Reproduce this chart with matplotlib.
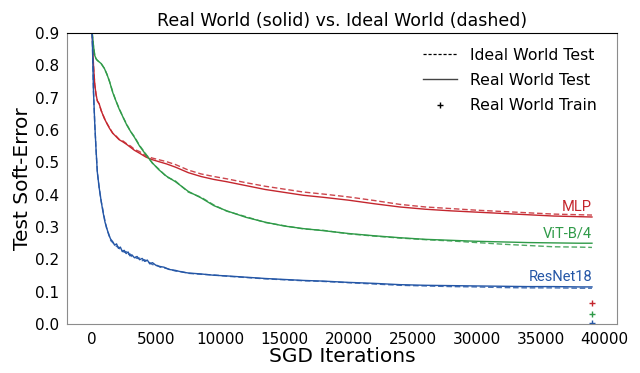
import matplotlib
matplotlib.use("Agg")
import matplotlib.pyplot as plt
from matplotlib.lines import Line2D

iters = [0, 100, 200, 300, 400, 550, 700, 950, 1150, 1350, 1600, 1850, 2100, 2400,
         2700, 3000, 3300, 3700, 4200, 4700, 5200, 5800, 6500, 7500, 8500, 9500,
         10500, 12000, 13500, 15000, 16500, 18000, 20000, 22000, 24000, 26000,
         28000, 30000, 32000, 34000, 36000, 38000, 39000]

# MLP
mlp_real = [0.90, 0.80, 0.74, 0.71, 0.69, 0.68, 0.66, 0.635, 0.62, 0.605, 0.59, 0.58, 0.57, 0.563,
            0.555, 0.546, 0.537, 0.528, 0.516, 0.508, 0.502, 0.495, 0.485, 0.468, 0.456, 0.447,
            0.440, 0.428, 0.416, 0.407, 0.398, 0.392, 0.383, 0.372, 0.362, 0.355,
            0.350, 0.346, 0.342, 0.338, 0.334, 0.332, 0.331]
mlp_ideal = [0.90, 0.80, 0.74, 0.71, 0.69, 0.68, 0.66, 0.637, 0.62, 0.607, 0.59, 0.582, 0.571, 0.566,
             0.557, 0.55, 0.54, 0.533, 0.520, 0.513, 0.508, 0.502, 0.493, 0.476, 0.464, 0.456,
             0.449, 0.437, 0.426, 0.417, 0.408, 0.402, 0.393, 0.382, 0.370, 0.362,
             0.357, 0.352, 0.348, 0.344, 0.340, 0.338, 0.337]

# ViT-B/4
vit_real = [0.90, 0.86, 0.83, 0.82, 0.815, 0.81, 0.805, 0.79, 0.772, 0.75, 0.716, 0.69, 0.665, 0.64,
            0.615, 0.595, 0.577, 0.55, 0.523, 0.498, 0.477, 0.457, 0.44, 0.41, 0.39, 0.366,
            0.35, 0.33, 0.315, 0.303, 0.295, 0.289, 0.28, 0.273, 0.267, 0.262,
            0.259, 0.256, 0.254, 0.252, 0.251, 0.250, 0.250]
vit_ideal = [0.90, 0.86, 0.83, 0.82, 0.815, 0.81, 0.805, 0.79, 0.772, 0.75, 0.718, 0.69, 0.667, 0.64,
             0.617, 0.595, 0.579, 0.552, 0.525, 0.497, 0.479, 0.455, 0.442, 0.408, 0.392, 0.368,
             0.349, 0.332, 0.314, 0.304, 0.294, 0.290, 0.279, 0.272, 0.266, 0.261,
             0.257, 0.252, 0.247, 0.243, 0.239, 0.238, 0.237]

# ResNet18 (noisier early part, read more densely)
resnet_iters = [0, 100, 200, 300, 400, 550, 700, 850, 1000, 1150, 1300, 1450, 1600, 1750, 1900,
                2050, 2200, 2350, 2500, 2650, 2800, 2950, 3100, 3300, 3500, 3700, 3900, 4100,
                4300, 4500, 4700, 5000, 5300, 5600, 6000, 6500, 7000, 7500, 8500, 9500,
                10500, 12000, 13500, 15000, 16500, 18000, 20000, 22000, 24000, 26000,
                28000, 30000, 32000, 34000, 36000, 38000, 39000]
resnet_real = [0.90, 0.72, 0.62, 0.54, 0.47, 0.42, 0.38, 0.345, 0.315, 0.295, 0.275, 0.262, 0.255, 0.244, 0.248,
               0.234, 0.238, 0.224, 0.228, 0.218, 0.223, 0.211, 0.214, 0.205, 0.209, 0.199, 0.203, 0.194,
               0.198, 0.186, 0.19, 0.181, 0.178, 0.176, 0.169, 0.166, 0.161, 0.158, 0.155, 0.151,
               0.149, 0.145, 0.141, 0.138, 0.135, 0.133, 0.129, 0.126, 0.122, 0.120,
               0.119, 0.118, 0.117, 0.116, 0.116, 0.115, 0.115]
resnet_ideal = [0.90, 0.72, 0.62, 0.54, 0.47, 0.42, 0.38, 0.35, 0.318, 0.292, 0.278, 0.258, 0.252, 0.247, 0.24,
                0.238, 0.23, 0.229, 0.222, 0.224, 0.215, 0.217, 0.209, 0.208, 0.203, 0.204, 0.196, 0.199,
                0.191, 0.19, 0.184, 0.183, 0.176, 0.174, 0.17, 0.164, 0.162, 0.157, 0.154, 0.152,
                0.148, 0.144, 0.140, 0.137, 0.134, 0.132, 0.128, 0.124, 0.120, 0.118,
                0.116, 0.115, 0.113, 0.112, 0.112, 0.111, 0.111]

# final train errors (plotted as + at the last iteration)
train_iter = 39000
train_err = {"MLP": 0.064, "ViT-B/4": 0.031, "ResNet18": 0.002}

models = ["MLP", "ViT-B/4", "ResNet18"]
colors = {"MLP": "#c4262e", "ViT-B/4": "#2f9a48", "ResNet18": "#2456a6"}
xs = {"MLP": iters, "ViT-B/4": iters, "ResNet18": resnet_iters}
real = {"MLP": mlp_real, "ViT-B/4": vit_real, "ResNet18": resnet_real}
ideal = {"MLP": mlp_ideal, "ViT-B/4": vit_ideal, "ResNet18": resnet_ideal}

fig, ax = plt.subplots(figsize=(6.4, 3.73), dpi=100)
fig.subplots_adjust(left=0.105, right=0.964, top=0.912, bottom=0.131)

for m in models:
    c = colors[m]
    ax.plot(xs[m], ideal[m], color=c, lw=1.0, ls=(0, (4, 2)), alpha=0.85)
    ax.plot(xs[m], real[m], color=c, lw=1.0)
    ax.plot([train_iter], [train_err[m]], marker="+", color=c, ms=5, mew=1.0, ls="none")
    # model name just above the end of the curve
    ax.text(xs[m][-1], real[m][-1] + 0.008, m, color=c, ha="right", va="bottom",
            fontsize=10.5, family="Roboto")

ax.set_ylim(0, 0.9)
ax.set_xticks([0, 5000, 10000, 15000, 20000, 25000, 30000, 35000, 40000])
ax.set_yticks([0.0, 0.1, 0.2, 0.3, 0.4, 0.5, 0.6, 0.7, 0.8, 0.9])
ax.tick_params(length=0, pad=6, labelsize=11)
for s in ["left", "bottom", "right"]:
    ax.spines[s].set_color("#8c8c8c")
ax.spines["top"].set_color("black")

ax.set_xlabel("SGD Iterations", fontsize=14.5, labelpad=0)
ax.set_ylabel("Test Soft-Error", fontsize=14.5, labelpad=2)
ax.set_title("Real World (solid) vs. Ideal World (dashed)", fontsize=12.5, pad=5)

handles = [
    Line2D([], [], color="black", lw=0.9, ls=(0, (2.5, 1.5))),
    Line2D([], [], color="#444444", lw=1.0),
    Line2D([], [], color="black", marker="+", ms=4, ls="none"),
]
ax.legend(handles, ["Ideal World Test", "Real World Test", "Real World Train"],
          loc="upper right", bbox_to_anchor=(0.99, 1.0), frameon=False, fontsize=11.3,
          handlelength=2.2, labelspacing=0.65, borderaxespad=0.55)

plt.savefig("out.png", dpi=100)
